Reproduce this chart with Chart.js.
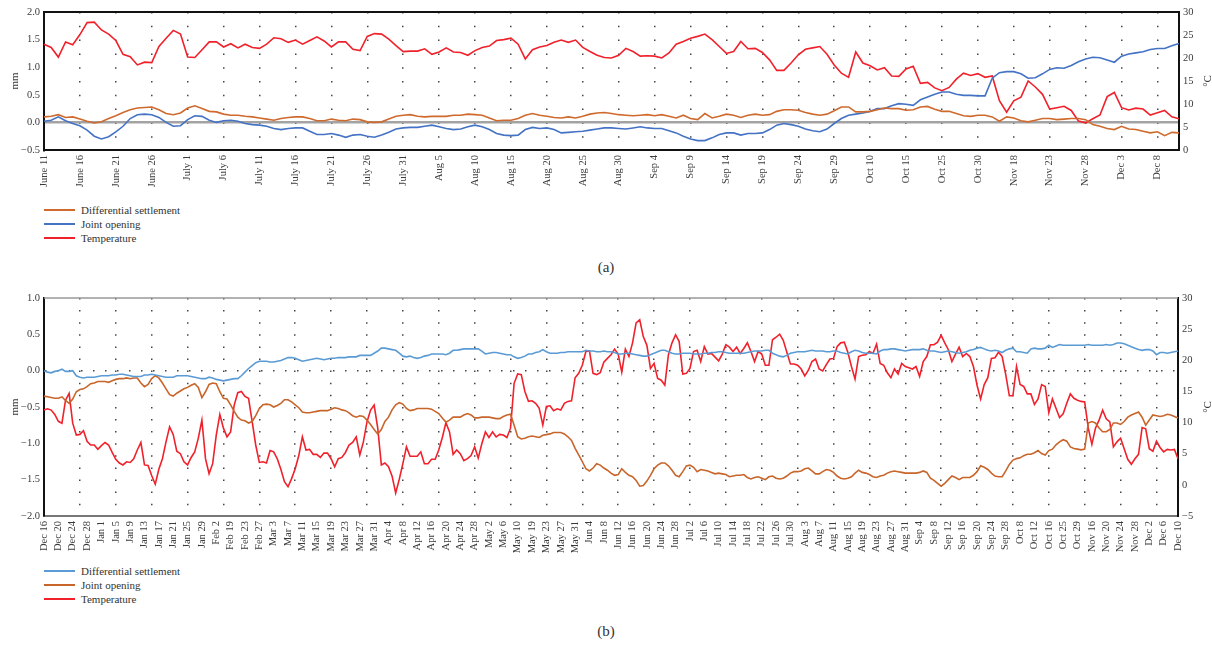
<!DOCTYPE html>
<html>
<head>
<meta charset="utf-8">
<script src="https://cdn.jsdelivr.net/npm/chart.js@4.4.1/dist/chart.umd.min.js"></script>
<style>
  body { margin: 0; background: #fff; }
  #page { position: relative; width: 1212px; height: 645px; font-family: "Liberation Serif", serif; color: #333; }
  #page canvas { position: absolute; left: 0; }
  .legend { position: absolute; left: 44px; font-size: 11px; }
  .legend .row { position: relative; height: 14px; line-height: 14px; padding-left: 37px; white-space: nowrap; }
  .legend .swatch { position: absolute; left: 0; top: 6px; width: 31px; height: 2px; }
  .caption { position: absolute; left: 0; width: 1212px; text-align: center; font-size: 15px; }
  .unit { position: absolute; width: 20px; height: 14px; line-height: 14px; text-align: center; font-size: 11px; transform: rotate(-90deg); }
</style>
</head>
<body>
<div id="page">
  <canvas id="chartA" width="1212" height="190" style="top:0"></canvas>
  <div class="unit" style="left:1197px; top:74px">°C</div>
  <div class="legend" id="legendA" style="top:203px"></div>
  <div class="caption" style="top:259px">(a)</div>

  <canvas id="chartB" width="1212" height="272" style="top:286px"></canvas>
  <div class="unit" style="left:1197px; top:400px">°C</div>
  <div class="legend" id="legendB" style="top:564px"></div>
  <div class="caption" style="top:623px">(b)</div>
</div>
<script>
// ---- panel (a): June 11 - Dec 11, label every 5 readings ----
const ticksA = ["June 11", "June 16", "June 21", "June 26", "July 1", "July 6", "July 11", "July 16",
  "July 21", "July 26", "July 31", "Aug 5", "Aug 10", "Aug 15", "Aug 20", "Aug 25", "Aug 30",
  "Sep 4", "Sep 9", "Sep 14", "Sep 19", "Sep 24", "Sep 29", "Oct 10", "Oct 15", "Oct 25",
  "Oct 30", "Nov 18", "Nov 23", "Nov 28", "Dec 3", "Dec 8"];

// mm
const settlementA = [
  0.10, 0.11, 0.14, 0.09, 0.10, 0.06, 0.02, -0.01, 0.01, 0.07,
  0.12, 0.18, 0.23, 0.26, 0.27, 0.28, 0.23, 0.16, 0.14, 0.17,
  0.26, 0.30, 0.25, 0.20, 0.19, 0.15, 0.13, 0.13, 0.11, 0.10,
  0.08, 0.06, 0.04, 0.07, 0.09, 0.10, 0.10, 0.07, 0.03, 0.03,
  0.06, 0.04, 0.03, 0.06, 0.05, 0.01, 0.00, 0.01, 0.06, 0.11,
  0.13, 0.14, 0.11, 0.10, 0.11, 0.11, 0.11, 0.13, 0.13, 0.15,
  0.14, 0.13, 0.08, 0.03, 0.04, 0.04, 0.07, 0.13, 0.16, 0.13,
  0.11, 0.09, 0.08, 0.10, 0.08, 0.11, 0.15, 0.17, 0.18, 0.16,
  0.14, 0.13, 0.12, 0.13, 0.14, 0.12, 0.14, 0.11, 0.08, 0.13,
  0.07, 0.05, 0.16, 0.08, 0.11, 0.15, 0.13, 0.09, 0.13, 0.15,
  0.13, 0.14, 0.20, 0.23, 0.23, 0.22, 0.18, 0.15, 0.13, 0.15,
  0.21, 0.28, 0.28, 0.19, 0.19, 0.20, 0.23, 0.26, 0.25, 0.25,
  0.22, 0.23, 0.28, 0.29, 0.24, 0.20, 0.20, 0.16, 0.12, 0.11,
  0.13, 0.13, 0.10, 0.02, 0.10, 0.08, 0.03, 0.01, 0.04, 0.07,
  0.07, 0.05, 0.06, 0.07, 0.07, 0.05, -0.04, -0.07, -0.11, -0.13,
  -0.07, -0.12, -0.13, -0.16, -0.19, -0.17, -0.24, -0.18, -0.19
];

const openingA = [
  0.02, 0.04, 0.10, 0.03, -0.02, -0.06, -0.14, -0.25, -0.30, -0.26,
  -0.17, -0.07, 0.07, 0.14, 0.15, 0.14, 0.09, 0.00, -0.07, -0.06,
  0.05, 0.12, 0.11, 0.04, 0.00, 0.03, 0.04, 0.02, -0.02, -0.04,
  -0.05, -0.07, -0.11, -0.13, -0.11, -0.10, -0.10, -0.16, -0.22, -0.22,
  -0.20, -0.23, -0.27, -0.23, -0.22, -0.25, -0.27, -0.23, -0.18, -0.12,
  -0.10, -0.09, -0.09, -0.07, -0.05, -0.08, -0.11, -0.13, -0.12, -0.08,
  -0.05, -0.08, -0.13, -0.20, -0.23, -0.24, -0.23, -0.13, -0.09, -0.11,
  -0.10, -0.13, -0.19, -0.18, -0.17, -0.16, -0.14, -0.12, -0.10, -0.10,
  -0.11, -0.12, -0.10, -0.08, -0.10, -0.11, -0.11, -0.15, -0.19, -0.25,
  -0.30, -0.33, -0.33, -0.28, -0.22, -0.19, -0.19, -0.23, -0.20, -0.20,
  -0.19, -0.13, -0.05, -0.02, -0.04, -0.07, -0.12, -0.15, -0.17, -0.12,
  -0.02, 0.07, 0.13, 0.15, 0.17, 0.20, 0.25, 0.25, 0.30, 0.34,
  0.33, 0.31, 0.41, 0.46, 0.51, 0.55, 0.55, 0.51, 0.49, 0.49,
  0.48, 0.48, 0.80, 0.90, 0.92, 0.92, 0.88, 0.80, 0.81, 0.88,
  0.96, 0.99, 0.98, 1.03, 1.10, 1.15, 1.18, 1.17, 1.13, 1.09,
  1.20, 1.24, 1.26, 1.28, 1.32, 1.34, 1.34, 1.39, 1.43
];

// °C
const temperatureA = [
  23.0, 22.3, 20.2, 23.5, 22.9, 25.1, 27.7, 27.8, 26.1, 25.2,
  23.8, 20.8, 20.3, 18.5, 19.1, 19.0, 22.5, 24.3, 26.0, 25.2,
  20.2, 20.1, 21.8, 23.5, 23.5, 22.4, 23.1, 22.2, 23.0, 22.3,
  22.1, 23.0, 24.4, 24.2, 23.4, 23.9, 23.0, 23.8, 24.6, 23.7,
  22.4, 23.5, 23.5, 21.9, 21.6, 24.7, 25.3, 25.2, 24.1, 22.7,
  21.4, 21.5, 21.5, 22.0, 20.8, 21.3, 22.2, 21.3, 21.2, 20.6,
  21.6, 22.3, 22.6, 23.8, 24.0, 24.3, 23.0, 19.8, 21.8, 22.4,
  22.7, 23.4, 23.9, 23.4, 23.9, 22.3, 21.4, 20.6, 20.1, 20.0,
  20.6, 22.1, 21.4, 20.4, 20.5, 20.4, 20.0, 21.1, 23.0, 23.6,
  24.3, 24.7, 25.2, 24.0, 22.5, 21.0, 21.4, 23.6, 22.0, 22.1,
  21.2, 19.6, 17.3, 17.3, 18.9, 20.7, 21.9, 22.2, 22.5, 20.8,
  18.5, 16.7, 15.8, 21.3, 18.9, 18.3, 17.4, 17.9, 16.1, 16.0,
  17.6, 18.2, 14.5, 14.7, 13.5, 12.9, 13.6, 15.4, 16.7, 16.2,
  16.6, 15.8, 16.1, 10.7, 8.2, 10.7, 11.5, 15.0, 13.7, 12.1,
  8.9, 9.2, 9.5, 8.6, 6.3, 5.9, 6.8, 7.6, 11.6, 12.5,
  9.2, 8.7, 9.1, 8.9, 7.6, 8.1, 8.6, 7.2, 6.8
];

// ---- panel (b): Dec 16 - Dec 10, label every 4 readings ----
const ticksB = ["Dec 16", "Dec 20", "Dec 24", "Dec 28", "Jan 1", "Jan 5", "Jan 9", "Jan 13", "Jan 17",
  "Jan 21", "Jan 25", "Jan 29", "Feb 2", "Feb 19", "Feb 23", "Feb 27", "Mar 3", "Mar 7", "Mar 11",
  "Mar 15", "Mar 19", "Mar 23", "Mar 27", "Mar 31", "Apr 4", "Apr 8", "Apr 12", "Apr 16", "Apr 20",
  "Apr 24", "Apr 28", "May 2", "May 6", "May 10", "May 19", "May 23", "May 27", "May 31", "Jun 4",
  "Jun 8", "Jun 12", "Jun 16", "Jun 20", "Jun 24", "Jun 28", "Jul 2", "Jul 6", "Jul 10", "Jul 14",
  "Jul 18", "Jul 22", "Jul 26", "Jul 30", "Aug 3", "Aug 7", "Aug 11", "Aug 15", "Aug 19", "Aug 23",
  "Aug 27", "Aug 31", "Sep 4", "Sep 8", "Sep 12", "Sep 16", "Sep 20", "Sep 24", "Sep 28", "Oct 8",
  "Oct 12", "Oct 16", "Oct 25", "Oct 29", "Nov 16", "Nov 20", "Nov 24", "Nov 28", "Dec 2", "Dec 6",
  "Dec 10"];

const settlementB = [
  0.00, -0.02, -0.03, -0.01, 0.00, 0.02, -0.01, -0.01, 0.00, -0.07,
  -0.09, -0.10, -0.09, -0.09, -0.09, -0.08, -0.07, -0.07, -0.07, -0.06,
  -0.06, -0.05, -0.05, -0.06, -0.07, -0.08, -0.08, -0.08, -0.06, -0.06,
  -0.05, -0.06, -0.07, -0.08, -0.09, -0.09, -0.09, -0.07, -0.07, -0.07,
  -0.07, -0.08, -0.09, -0.10, -0.11, -0.11, -0.09, -0.10, -0.12, -0.13,
  -0.14, -0.13, -0.12, -0.11, -0.11, -0.07, -0.02, 0.03, 0.07, 0.11,
  0.13, 0.13, 0.13, 0.12, 0.12, 0.13, 0.14, 0.16, 0.18, 0.18,
  0.17, 0.15, 0.13, 0.14, 0.15, 0.16, 0.17, 0.16, 0.15, 0.16,
  0.17, 0.17, 0.18, 0.18, 0.18, 0.19, 0.19, 0.19, 0.21, 0.21,
  0.21, 0.21, 0.24, 0.27, 0.31, 0.31, 0.30, 0.29, 0.28, 0.24,
  0.20, 0.19, 0.20, 0.18, 0.17, 0.18, 0.20, 0.21, 0.23, 0.23,
  0.23, 0.23, 0.22, 0.24, 0.28, 0.28, 0.29, 0.30, 0.30, 0.30,
  0.30, 0.30, 0.27, 0.23, 0.24, 0.25, 0.25, 0.24, 0.23, 0.22,
  0.22, 0.19, 0.17, 0.18, 0.20, 0.23, 0.23, 0.25, 0.26, 0.29,
  0.26, 0.24, 0.24, 0.24, 0.25, 0.25, 0.26, 0.26, 0.26, 0.26,
  0.26, 0.28, 0.27, 0.27, 0.26, 0.26, 0.27, 0.26, 0.26, 0.25,
  0.23, 0.23, 0.24, 0.24, 0.23, 0.22, 0.21, 0.20, 0.20, 0.22,
  0.24, 0.26, 0.28, 0.28, 0.26, 0.24, 0.23, 0.23, 0.24, 0.24,
  0.24, 0.23, 0.23, 0.23, 0.24, 0.24, 0.25, 0.25, 0.26, 0.26,
  0.25, 0.24, 0.24, 0.24, 0.24, 0.24, 0.25, 0.26, 0.27, 0.27,
  0.27, 0.28, 0.28, 0.24, 0.22, 0.20, 0.19, 0.21, 0.24, 0.25,
  0.26, 0.26, 0.26, 0.27, 0.28, 0.27, 0.27, 0.27, 0.26, 0.26,
  0.27, 0.27, 0.25, 0.24, 0.23, 0.26, 0.28, 0.27, 0.25, 0.24,
  0.24, 0.24, 0.23, 0.27, 0.29, 0.29, 0.30, 0.30, 0.29, 0.28,
  0.27, 0.28, 0.29, 0.29, 0.29, 0.30, 0.28, 0.27, 0.27, 0.26,
  0.25, 0.26, 0.27, 0.26, 0.25, 0.24, 0.25, 0.26, 0.28, 0.29,
  0.31, 0.32, 0.30, 0.28, 0.27, 0.28, 0.27, 0.25, 0.28, 0.30,
  0.31, 0.26, 0.26, 0.25, 0.24, 0.30, 0.31, 0.30, 0.30, 0.31,
  0.35, 0.32, 0.34, 0.36, 0.35, 0.35, 0.35, 0.35, 0.35, 0.35,
  0.35, 0.36, 0.35, 0.35, 0.35, 0.35, 0.36, 0.35, 0.36, 0.38,
  0.38, 0.37, 0.35, 0.33, 0.31, 0.29, 0.28, 0.29, 0.29, 0.27,
  0.22, 0.25, 0.25, 0.24, 0.25, 0.26, 0.27
];

const openingB = [
  -0.35, -0.36, -0.37, -0.38, -0.38, -0.36, -0.41, -0.45, -0.39, -0.29,
  -0.26, -0.25, -0.22, -0.18, -0.17, -0.15, -0.15, -0.15, -0.16, -0.14,
  -0.12, -0.11, -0.11, -0.10, -0.11, -0.10, -0.10, -0.17, -0.22, -0.19,
  -0.11, -0.07, -0.10, -0.17, -0.25, -0.33, -0.35, -0.31, -0.28, -0.25,
  -0.23, -0.20, -0.18, -0.23, -0.37, -0.29, -0.19, -0.17, -0.18, -0.29,
  -0.38, -0.39, -0.47, -0.56, -0.64, -0.68, -0.69, -0.72, -0.70, -0.62,
  -0.52, -0.47, -0.46, -0.47, -0.50, -0.48, -0.45, -0.40, -0.40, -0.43,
  -0.47, -0.51, -0.57, -0.58, -0.58, -0.57, -0.56, -0.55, -0.55, -0.55,
  -0.53, -0.51, -0.52, -0.54, -0.55, -0.58, -0.62, -0.64, -0.62, -0.63,
  -0.68, -0.74, -0.81, -0.87, -0.81, -0.70, -0.64, -0.54, -0.47, -0.44,
  -0.46, -0.52, -0.55, -0.54, -0.52, -0.52, -0.52, -0.52, -0.53, -0.56,
  -0.59, -0.65, -0.71, -0.68, -0.64, -0.64, -0.64, -0.61, -0.59, -0.61,
  -0.65, -0.65, -0.64, -0.64, -0.64, -0.65, -0.66, -0.66, -0.63, -0.61,
  -0.60, -0.75, -0.91, -0.94, -0.93, -0.91, -0.90, -0.91, -0.92, -0.89,
  -0.88, -0.87, -0.85, -0.85, -0.85, -0.87, -0.91, -0.96, -1.07, -1.16,
  -1.25, -1.35, -1.38, -1.34, -1.28, -1.30, -1.34, -1.37, -1.41, -1.44,
  -1.43, -1.35, -1.40, -1.44, -1.46, -1.51, -1.59, -1.58, -1.52, -1.44,
  -1.35, -1.30, -1.27, -1.27, -1.31, -1.37, -1.44, -1.46, -1.39, -1.31,
  -1.30, -1.33, -1.39, -1.36, -1.37, -1.38, -1.40, -1.42, -1.41, -1.42,
  -1.43, -1.46, -1.45, -1.44, -1.44, -1.43, -1.47, -1.49, -1.47, -1.46,
  -1.48, -1.50, -1.46, -1.45, -1.48, -1.49, -1.48, -1.45, -1.41, -1.39,
  -1.39, -1.38, -1.35, -1.34, -1.38, -1.42, -1.42, -1.39, -1.36, -1.37,
  -1.40, -1.45, -1.48, -1.49, -1.48, -1.46, -1.41, -1.37, -1.40, -1.41,
  -1.43, -1.46, -1.47, -1.45, -1.44, -1.41, -1.39, -1.38, -1.39, -1.40,
  -1.41, -1.41, -1.41, -1.41, -1.40, -1.38, -1.40, -1.48, -1.51, -1.55,
  -1.59, -1.55, -1.50, -1.45, -1.47, -1.50, -1.47, -1.47, -1.47, -1.44,
  -1.39, -1.31, -1.33, -1.36, -1.41, -1.45, -1.46, -1.46, -1.38, -1.29,
  -1.23, -1.21, -1.20, -1.17, -1.15, -1.15, -1.13, -1.10, -1.14, -1.16,
  -1.10, -1.08, -1.02, -0.98, -0.95, -0.97, -1.05, -1.07, -1.08, -1.09,
  -1.08, -0.72, -0.70, -0.72, -0.79, -0.84, -0.84, -0.81, -0.72, -0.72,
  -0.74, -0.70, -0.64, -0.61, -0.59, -0.57, -0.64, -0.75, -0.68, -0.61,
  -0.62, -0.63, -0.62, -0.60, -0.61, -0.63, -0.65
];

const temperatureB = [
  12.0, 12.2, 12.0, 11.3, 10.2, 9.9, 13.6, 14.7, 9.9, 8.0,
  8.1, 8.7, 7.0, 6.4, 6.4, 5.7, 6.3, 6.8, 6.4, 5.2,
  4.1, 3.5, 3.2, 3.7, 3.6, 4.2, 5.6, 6.8, 3.2, 3.1,
  1.5, 0.1, 2.5, 4.2, 6.9, 9.3, 8.1, 5.4, 5.0, 3.7,
  3.2, 4.4, 5.3, 7.5, 10.4, 4.2, 1.8, 3.4, 8.0, 11.3,
  9.1, 7.7, 8.5, 12.8, 14.8, 15.0, 14.2, 13.9, 10.2, 6.4,
  3.6, 3.7, 3.5, 5.5, 5.3, 4.2, 2.5, 0.5, -0.3, 1.0,
  2.6, 4.7, 7.7, 5.6, 5.7, 4.9, 4.9, 4.4, 5.1, 5.1,
  4.2, 2.9, 4.2, 4.4, 5.2, 6.4, 6.8, 7.7, 4.8, 6.9,
  10.1, 12.0, 12.8, 9.1, 3.2, 3.5, 2.9, 1.4, -1.3, 0.9,
  3.4, 6.1, 4.6, 4.6, 4.6, 5.3, 3.4, 3.4, 4.1, 4.1,
  5.6, 7.6, 10.0, 8.5, 4.9, 5.6, 5.0, 3.9, 4.2, 4.7,
  6.1, 4.3, 6.6, 8.5, 7.6, 8.5, 7.7, 8.1, 8.0, 7.6,
  9.1, 16.3, 17.8, 17.7, 15.0, 13.4, 13.5, 13.1, 12.3, 9.6,
  12.6, 12.7, 11.9, 12.2, 12.0, 13.1, 13.4, 13.5, 17.2, 17.9,
  19.2, 21.4, 21.5, 17.9, 17.7, 18.0, 19.7, 20.3, 20.9, 21.8,
  21.0, 18.1, 21.8, 20.6, 22.8, 26.0, 26.5, 23.8, 22.4, 18.7,
  19.5, 17.1, 16.8, 16.0, 20.9, 22.8, 24.1, 23.0, 17.8, 17.9,
  18.7, 21.4, 21.6, 19.8, 22.2, 21.0, 21.1, 20.5, 19.9, 21.0,
  22.5, 22.1, 21.4, 22.1, 21.1, 21.9, 22.8, 21.4, 19.8, 21.4,
  21.0, 19.2, 19.2, 23.3, 23.7, 24.2, 23.2, 21.3, 19.4, 19.4,
  19.2, 18.6, 17.5, 18.4, 19.8, 20.2, 18.6, 18.3, 19.3, 20.2,
  20.3, 22.2, 22.8, 22.9, 21.3, 19.0, 17.0, 20.6, 20.8, 20.9,
  21.4, 21.1, 22.6, 19.5, 19.2, 18.0, 17.2, 18.6, 17.8, 19.5,
  19.0, 18.8, 18.6, 19.0, 17.4, 19.8, 20.6, 22.5, 22.5, 22.9,
  24.0, 22.8, 21.7, 19.8, 21.0, 22.1, 20.6, 21.1, 20.6, 19.0,
  16.0, 13.8, 16.1, 17.2, 20.3, 20.4, 21.3, 20.6, 17.7, 14.3,
  14.3, 19.0, 16.1, 15.8, 14.6, 14.6, 12.9, 13.8, 16.1, 15.8,
  11.6, 13.8, 12.3, 10.8, 11.4, 13.1, 14.6, 13.9, 13.6, 13.4,
  13.3, 9.1, 6.5, 9.1, 10.4, 12.0, 10.6, 10.1, 6.1, 6.9,
  7.5, 5.8, 4.1, 3.3, 4.2, 4.9, 9.2, 9.0, 5.8, 5.4,
  7.0, 6.0, 5.3, 5.7, 5.6, 5.7, 4.2
];

const TEXT = "#3a3a3a";
const FONT = { family: "Liberation Serif", size: 10.5 };

// draws the top frame line of the plot area
const topFrame = {
  id: "topFrame",
  afterDraw(chart, args, opts) {
    const { ctx, chartArea: a } = chart;
    ctx.save();
    ctx.strokeStyle = opts.color;
    ctx.lineWidth = opts.width;
    ctx.beginPath();
    ctx.moveTo(a.left, a.top);
    ctx.lineTo(a.right, a.top);
    ctx.stroke();
    ctx.restore();
  },
};

function fmt(v, digits) {
  return (v < 0 ? "\u2212" : "") + Math.abs(v).toFixed(digits);
}

function buildChart(id, p) {
  const labels = p.datasets[0].data.map((_, i) => (i % p.labelEvery === 0 ? p.ticks[i / p.labelEvery] : ""));
  return new Chart(document.getElementById(id), {
    type: "line",
    data: {
      labels: labels,
      datasets: p.datasets.map((d) => ({
        label: d.label,
        data: d.data,
        yAxisID: d.axis,
        borderColor: d.color,
        backgroundColor: d.color,
        borderWidth: 1.6,
        pointRadius: 0,
        tension: 0,
        fill: false,
      })),
    },
    options: {
      responsive: false,
      animation: false,
      layout: { padding: { top: 12, left: 0, right: 0, bottom: 0 } },
      plugins: {
        legend: { display: false },
        tooltip: { enabled: false },
        topFrame: p.top,
      },
      scales: {
        x: {
          ticks: {
            autoSkip: false,
            minRotation: 90,
            maxRotation: 90,
            padding: 5,
            color: TEXT,
            font: FONT,
          },
          grid: {
            drawTicks: false,
            lineWidth: 1.5,
            color: (c) => (c.index % p.gridEvery === 0 ? "#444" : "rgba(0,0,0,0)"),
          },
          border: { color: p.bottomColor, width: 2, dash: p.xDash },
          afterFit: (s) => { s.height = p.xHeight; },
        },
        y: {
          position: "left",
          min: p.mmRange[0],
          max: p.mmRange[1],
          ticks: { stepSize: 0.5, padding: 4, color: TEXT, font: FONT, callback: (v) => fmt(v, 1) },
          grid: {
            drawTicks: false,
            lineWidth: p.zeroWidth,
            color: (c) => (c.tick && c.tick.value === 0 ? p.zeroColor : "rgba(0,0,0,0)"),
          },
          border: { color: "#111", width: 2, dash: p.zeroDash },
          title: { display: true, text: "mm", color: TEXT, font: { family: "Liberation Serif", size: 11 }, padding: { top: 9, bottom: 0 } },
          afterFit: (s) => { s.width = 44; },
        },
        y1: {
          position: "right",
          min: p.tRange[0],
          max: p.tRange[1],
          ticks: { stepSize: 5, padding: 4, color: TEXT, font: FONT, callback: (v) => fmt(v, 0) },
          grid: { drawOnChartArea: false, drawTicks: false },
          border: { color: "#111", width: 2 },
          afterFit: (s) => { s.width = p.rightWidth; },
        },
      },
    },
    plugins: [topFrame],
  });
}

function buildLegend(id, chart) {
  const box = document.getElementById(id);
  chart.data.datasets.forEach((ds) => {
    const row = document.createElement("div");
    row.className = "row";
    const sw = document.createElement("span");
    sw.className = "swatch";
    sw.style.background = ds.borderColor;
    row.appendChild(sw);
    row.appendChild(document.createTextNode(ds.label));
    box.appendChild(row);
  });
}

const ORANGE = "#CF6A2E";
const RED = "#F0212B";

const chartA = buildChart("chartA", {
  ticks: ticksA,
  labelEvery: 5,
  gridEvery: 5,
  xDash: [1.5, 12.3],
  xHeight: 40,
  mmRange: [-0.5, 2.0],
  tRange: [0, 30],
  rightWidth: 33,
  zeroColor: "#a3a3a3",
  zeroWidth: 2.5,
  zeroDash: [],
  bottomColor: "#111",
  top: { color: "#111", width: 2 },
  datasets: [
    { label: "Differential settlement", data: settlementA, axis: "y", color: ORANGE },
    { label: "Joint opening", data: openingA, axis: "y", color: "#4472C4" },
    { label: "Temperature", data: temperatureA, axis: "y1", color: RED },
  ],
});

const chartB = buildChart("chartB", {
  ticks: ticksB,
  labelEvery: 4,
  gridEvery: 10,
  xDash: [1.5, 10.6],
  xHeight: 42,
  mmRange: [-2.0, 1.0],
  tRange: [-5, 30],
  rightWidth: 34,
  zeroColor: "#444",
  zeroWidth: 1.5,
  zeroDash: [1.5, 10.5],
  bottomColor: "#777",
  top: { color: "#999", width: 1.5 },
  datasets: [
    { label: "Differential settlement", data: settlementB, axis: "y", color: "#5B9BD5" },
    { label: "Joint opening", data: openingB, axis: "y", color: "#C8652B" },
    { label: "Temperature", data: temperatureB, axis: "y1", color: RED },
  ],
});

buildLegend("legendA", chartA);
buildLegend("legendB", chartB);
</script>
</body>
</html>
